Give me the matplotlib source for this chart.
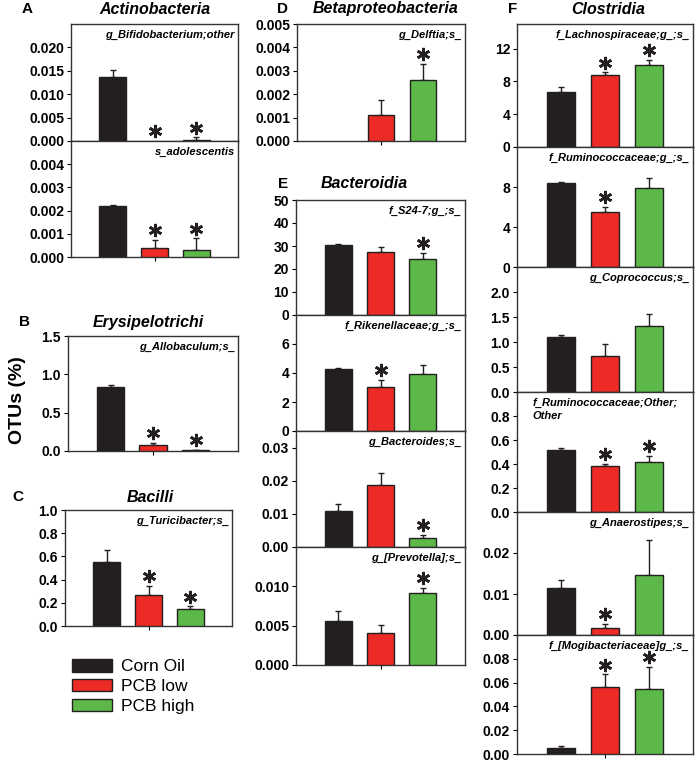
import numpy as np
import matplotlib
matplotlib.use("Agg")
import matplotlib.pyplot as plt
import matplotlib.transforms as mtransforms
from matplotlib.patches import Patch
from matplotlib.ticker import FormatStrFormatter

plt.rcParams['font.family'] = ['Liberation Sans', 'DejaVu Sans']

W, H = 696, 761

groups = ["Corn Oil", "PCB low", "PCB high"]
colors = ["#231f20", "#ec2b27", "#5cb848"]

# mean, upper error, significance (1 = star) for each sub-panel
a1_mean = [0.0137, 0.0, 0.0003]
a1_err = [0.0015, 0.0, 0.0005]
a1_sig = [0, 1, 1]
a2_mean = [0.0022, 0.0004, 0.0003]
a2_err = [0.00003, 0.00035, 0.0005]
a2_sig = [0, 1, 1]
b_mean = [0.83, 0.08, 0.01]
b_err = [0.03, 0.03, 0.005]
b_sig = [0, 1, 1]
c_mean = [0.555, 0.265, 0.145]
c_err = [0.10, 0.08, 0.025]
c_sig = [0, 1, 1]
d_mean = [0.0, 0.0011, 0.0026]
d_err = [0.0, 0.00065, 0.0007]
d_sig = [0, 0, 1]
e1_mean = [30.5, 27.5, 24.5]
e1_err = [0.4, 2.0, 2.5]
e1_sig = [0, 0, 1]
e2_mean = [4.3, 3.05, 3.95]
e2_err = [0.03, 0.5, 0.6]
e2_sig = [0, 1, 0]
e3_mean = [0.011, 0.0187, 0.0028]
e3_err = [0.002, 0.0035, 0.0008]
e3_sig = [0, 0, 1]
e4_mean = [0.0056, 0.0041, 0.0092]
e4_err = [0.0013, 0.001, 0.0006]
e4_sig = [0, 0, 1]
f1_mean = [6.7, 8.8, 10.0]
f1_err = [0.6, 0.3, 0.6]
f1_sig = [0, 1, 1]
f2_mean = [8.4, 5.5, 7.9]
f2_err = [0.1, 0.5, 1.0]
f2_sig = [0, 1, 0]
f3_mean = [1.1, 0.72, 1.32]
f3_err = [0.05, 0.25, 0.25]
f3_sig = [0, 0, 0]
f4_mean = [0.52, 0.38, 0.42]
f4_err = [0.01, 0.02, 0.05]
f4_sig = [0, 1, 1]
f5_mean = [0.0115, 0.0018, 0.0147]
f5_err = [0.002, 0.0009, 0.0085]
f5_sig = [0, 1, 0]
f6_mean = [0.005, 0.056, 0.055]
f6_err = [0.0015, 0.011, 0.018]
f6_sig = [0, 1, 1]

fig = plt.figure(figsize=(W / 100, H / 100), dpi=100)


def px(l, t, r, b):
    return [l / W, 1 - b / H, (r - l) / W, (b - t) / H]


def panel(box, mean, err, sig, ymax, ticks, fmt, label, bottom_tick=False,
          label_ha='right'):
    ax = fig.add_axes(px(*box))
    x = np.arange(1, 4)
    mean = np.asarray(mean)
    err = np.asarray(err)
    keep = mean > 0
    cols = [c for c, k in zip(colors, keep) if k]
    ax.bar(x[keep], mean[keep], width=0.64, color=cols, edgecolor="#231f20",
           linewidth=1.0, zorder=3)
    ax.errorbar(x[keep], mean[keep], yerr=[np.zeros(keep.sum()), err[keep]],
                fmt='none', ecolor="#231f20", elinewidth=1.0, capsize=2.5,
                capthick=1.0, zorder=2)
    star_tr = mtransforms.offset_copy(ax.transData, fig=fig, y=7, units='points')
    for xi, m, e, s in zip(x, mean, err, sig):
        if s:
            ax.plot(xi, m + e, marker=(6, 2, 0), ms=9.5, mew=1.9, color="#231f20",
                    transform=star_tr, clip_on=False, zorder=4)
    ax.set_xlim(0, 4)
    ax.set_ylim(0, ymax)
    ax.set_yticks(ticks)
    ax.yaxis.set_major_formatter(FormatStrFormatter(fmt))
    ax.tick_params(axis='y', direction='out', length=3, width=0.8, pad=2,
                   labelsize=10)
    for t in ax.get_yticklabels():
        t.set_fontweight('bold')
    if bottom_tick:
        ax.set_xticks([2])
        ax.set_xticklabels([])
        ax.tick_params(axis='x', direction='out', length=3, width=0.8)
    else:
        ax.set_xticks([])
    for sp in ax.spines.values():
        sp.set_linewidth(1.0)
        sp.set_color("#333333")
    if label_ha == 'right':
        ax.text(0.98, 0.95, label, transform=ax.transAxes, ha='right', va='top',
                fontsize=8, fontweight='bold', style='italic')
    else:
        ax.text(0.09, 0.95, label, transform=ax.transAxes, ha='left', va='top',
                fontsize=8, fontweight='bold', style='italic', linespacing=1.3)
    return ax


# column A / B / C
panel((71, 24, 238, 141), a1_mean, a1_err, a1_sig, 0.025,
      np.arange(0, 0.0201, 0.005), '%.3f', 'g_Bifidobacterium;other')
panel((71, 141, 238, 257), a2_mean, a2_err, a2_sig, 0.005,
      np.arange(0, 0.00401, 0.001), '%.3f', 's_adolescentis', bottom_tick=True)
panel((68, 336, 238, 451), b_mean, b_err, b_sig, 1.5,
      np.arange(0, 1.51, 0.5), '%.1f', 'g_Allobaculum;s_', bottom_tick=True)
panel((65, 510, 232, 626), c_mean, c_err, c_sig, 1.0,
      np.arange(0, 1.01, 0.2), '%.1f', 'g_Turicibacter;s_', bottom_tick=True)

# column D / E
panel((297, 24, 465, 141), d_mean, d_err, d_sig, 0.005,
      np.arange(0, 0.00501, 0.001), '%.3f', 'g_Delftia;s_', bottom_tick=True)
panel((296, 200, 465, 315), e1_mean, e1_err, e1_sig, 50,
      np.arange(0, 51, 10), '%d', 'f_S24-7;g_;s_')
panel((296, 315, 465, 431), e2_mean, e2_err, e2_sig, 8,
      np.arange(0, 7, 2), '%d', 'f_Rikenellaceae;g_;s_')
panel((296, 431, 465, 547), e3_mean, e3_err, e3_sig, 0.035,
      np.arange(0, 0.0301, 0.01), '%.2f', 'g_Bacteroides;s_')
panel((296, 547, 465, 665), e4_mean, e4_err, e4_sig, 0.015,
      np.arange(0, 0.0101, 0.005), '%.3f', 'g_[Prevotella];s_', bottom_tick=True)

# column F
panel((517, 24, 693, 147), f1_mean, f1_err, f1_sig, 15,
      np.arange(0, 13, 4), '%d', 'f_Lachnospiraceae;g_;s_')
panel((517, 147, 693, 267), f2_mean, f2_err, f2_sig, 12,
      np.arange(0, 9, 4), '%d', 'f_Ruminococcaceae;g_;s_')
panel((517, 267, 693, 392), f3_mean, f3_err, f3_sig, 2.5,
      np.arange(0, 2.01, 0.5), '%.1f', 'g_Coprococcus;s_')
panel((517, 392, 693, 512), f4_mean, f4_err, f4_sig, 1.0,
      np.arange(0, 0.81, 0.2), '%.1f', 'f_Ruminococcaceae;Other;\nOther',
      label_ha='left')
panel((517, 512, 693, 635), f5_mean, f5_err, f5_sig, 0.03,
      np.arange(0, 0.0201, 0.01), '%.2f', 'g_Anaerostipes;s_')
panel((517, 635, 693, 754), f6_mean, f6_err, f6_sig, 0.1,
      np.arange(0, 0.0801, 0.02), '%.2f', 'f_[Mogibacteriaceae]g_;s_',
      bottom_tick=True)

# panel letters and class titles
letters = [("A", 27, 9), ("B", 25, 322), ("C", 18, 497),
           ("D", 283, 9), ("E", 283, 184), ("F", 513, 9)]
for s, x, y in letters:
    fig.text(x / W, 1 - y / H, s, fontsize=11, fontweight='bold',
             ha='center', va='center')
titles = [("Actinobacteria", 155, 9), ("Erysipelotrichi", 148, 322),
          ("Bacilli", 150, 497), ("Betaproteobacteria", 386, 9),
          ("Bacteroidia", 364, 184), ("Clostridia", 608, 9)]
for s, x, y in titles:
    fig.text(x / W, 1 - y / H, s, fontsize=11.5, fontweight='bold',
             style='italic', ha='center', va='center')

fig.text(18 / W, 1 - 400 / H, "OTUs (%)", rotation=90, fontsize=14,
         fontweight='bold', ha='center', va='center')

handles = [Patch(facecolor=c, edgecolor="#231f20", linewidth=1.0) for c in colors]
fig.legend(handles, groups, loc='upper left',
           bbox_to_anchor=(72 / W, 1 - 659 / H), frameon=False, fontsize=12.5,
           handlelength=2.3, handleheight=0.75, labelspacing=0.25,
           handletextpad=0.55, borderpad=0, borderaxespad=0)

fig.savefig("out.png", dpi=100)
